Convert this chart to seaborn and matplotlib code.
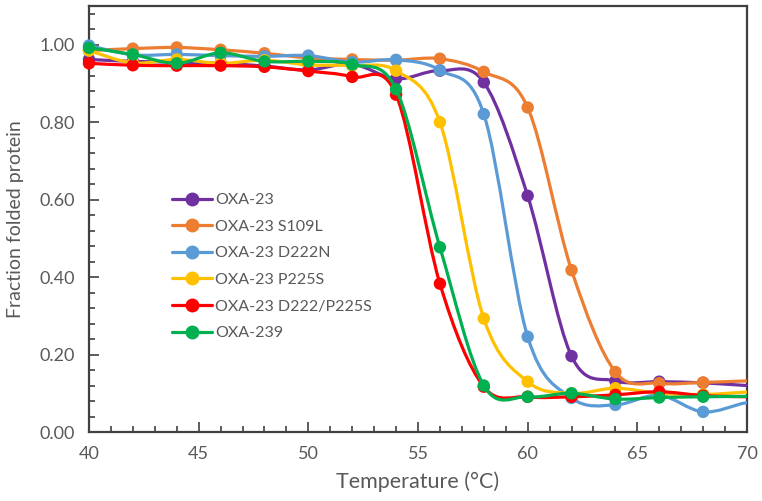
import numpy as np
import pandas as pd
import seaborn as sns
import matplotlib.pyplot as plt
from matplotlib.path import Path
from matplotlib.patches import PathPatch
from matplotlib.lines import Line2D
from matplotlib.ticker import MultipleLocator, FormatStrFormatter

# data (the last two points only run the lines off the right edge)
temps = [40, 42, 44, 46, 48, 50, 52, 54, 56, 58, 60, 62, 64, 66, 68, 70, 72]
oxa23 = [0.962, 0.957, 0.955, 0.952, 0.945, 0.935, 0.950, 0.912, 0.933, 0.903, 0.610, 0.196, 0.132, 0.130, 0.127, 0.120, 0.115]
oxa23_s109l = [0.985, 0.990, 0.993, 0.987, 0.978, 0.966, 0.962, 0.960, 0.964, 0.930, 0.838, 0.418, 0.155, 0.126, 0.128, 0.132, 0.135]
oxa23_d222n = [0.998, 0.974, 0.975, 0.972, 0.970, 0.972, 0.955, 0.961, 0.934, 0.821, 0.246, 0.088, 0.070, 0.095, 0.052, 0.076, 0.090]
oxa23_p225s = [0.985, 0.953, 0.962, 0.952, 0.960, 0.948, 0.946, 0.933, 0.800, 0.293, 0.130, 0.100, 0.113, 0.100, 0.097, 0.103, 0.108]
oxa23_d222_p225s = [0.952, 0.947, 0.946, 0.946, 0.943, 0.932, 0.917, 0.871, 0.383, 0.117, 0.091, 0.091, 0.096, 0.104, 0.094, 0.091, 0.090]
oxa239 = [0.992, 0.975, 0.952, 0.979, 0.957, 0.957, 0.949, 0.885, 0.477, 0.120, 0.091, 0.100, 0.085, 0.089, 0.091, 0.092, 0.092]

names = ["OXA-23", "OXA-23 S109L", "OXA-23 D222N", "OXA-23 P225S", "OXA-23 D222/P225S", "OXA-239"]
series = [oxa23, oxa23_s109l, oxa23_d222n, oxa23_p225s, oxa23_d222_p225s, oxa239]
colors = ["#7030A0", "#ED7D31", "#5B9BD5", "#FFC000", "#FF0000", "#00B050"]

df = pd.DataFrame({"temp": temps * len(names),
                   "fraction": [v for s in series for v in s],
                   "protein": [n for n in names for _ in temps]})


def smooth_path(x, y):
    # Excel-style smoothed line: cubic Bezier through every point
    pts = np.column_stack([x, y]).astype(float)
    n = len(pts)
    verts = [pts[0]]
    codes = [Path.MOVETO]
    for i in range(n - 1):
        p0 = pts[i - 1] if i > 0 else pts[i]
        p1, p2 = pts[i], pts[i + 1]
        p3 = pts[i + 2] if i + 2 < n else pts[i + 1]
        verts += [p1 + (p2 - p0) / 6, p2 - (p3 - p1) / 6, p2]
        codes += [Path.CURVE4] * 3
    return Path(verts, codes)


sns.set_theme(style="white")
plt.rcParams["font.family"] = ["Lato", "DejaVu Sans"]
text_col = "#595959"

fig = plt.figure(figsize=(7.62, 5.01), dpi=100)
ax = fig.add_axes([0.1168, 0.1377, 0.8635, 0.8503])

for i, name in enumerate(names):
    sub = df[df.protein == name]
    ax.add_patch(PathPatch(smooth_path(sub.temp, sub.fraction), fill=False,
                           edgecolor=colors[i], lw=2.3, zorder=3 + 2 * i))
    pts = sub[sub.temp < 70]
    sns.scatterplot(data=pts, x="temp", y="fraction", color=colors[i], s=80,
                    edgecolor="none", ax=ax, zorder=4 + 2 * i, clip_on=False, legend=False)

ax.set_xlim(40, 70)
ax.set_ylim(0, 1.1)
ax.xaxis.set_major_locator(MultipleLocator(5))
ax.xaxis.set_minor_locator(MultipleLocator(1))
ax.yaxis.set_major_locator(MultipleLocator(0.2))
ax.yaxis.set_minor_locator(MultipleLocator(0.04))
ax.yaxis.set_major_formatter(FormatStrFormatter("%.2f"))
ax.tick_params(which="both", direction="in", colors="#404040", labelcolor=text_col,
               labelsize=13, bottom=True, left=True, top=False, right=False)
ax.tick_params(which="major", length=7, width=1.2, pad=10)
ax.tick_params(which="minor", length=4, width=1.2)
for sp in ax.spines.values():
    sp.set_color("#404040")
    sp.set_linewidth(1.6)

ax.set_xlabel("Temperature (°C)", fontsize=15.5, color=text_col, labelpad=7)
ax.set_ylabel("Fraction folded protein", fontsize=14, color=text_col, labelpad=11)

handles = [Line2D([], [], color=c, lw=2.3, marker="o", ms=9) for c in colors]
ax.legend(handles, names, loc="upper left", bbox_to_anchor=(0.105, 0.595), frameon=False,
          fontsize=11.5, labelcolor=text_col, handlelength=2.5, handletextpad=0.15,
          labelspacing=0.78)

fig.savefig("out.png", dpi=100)
